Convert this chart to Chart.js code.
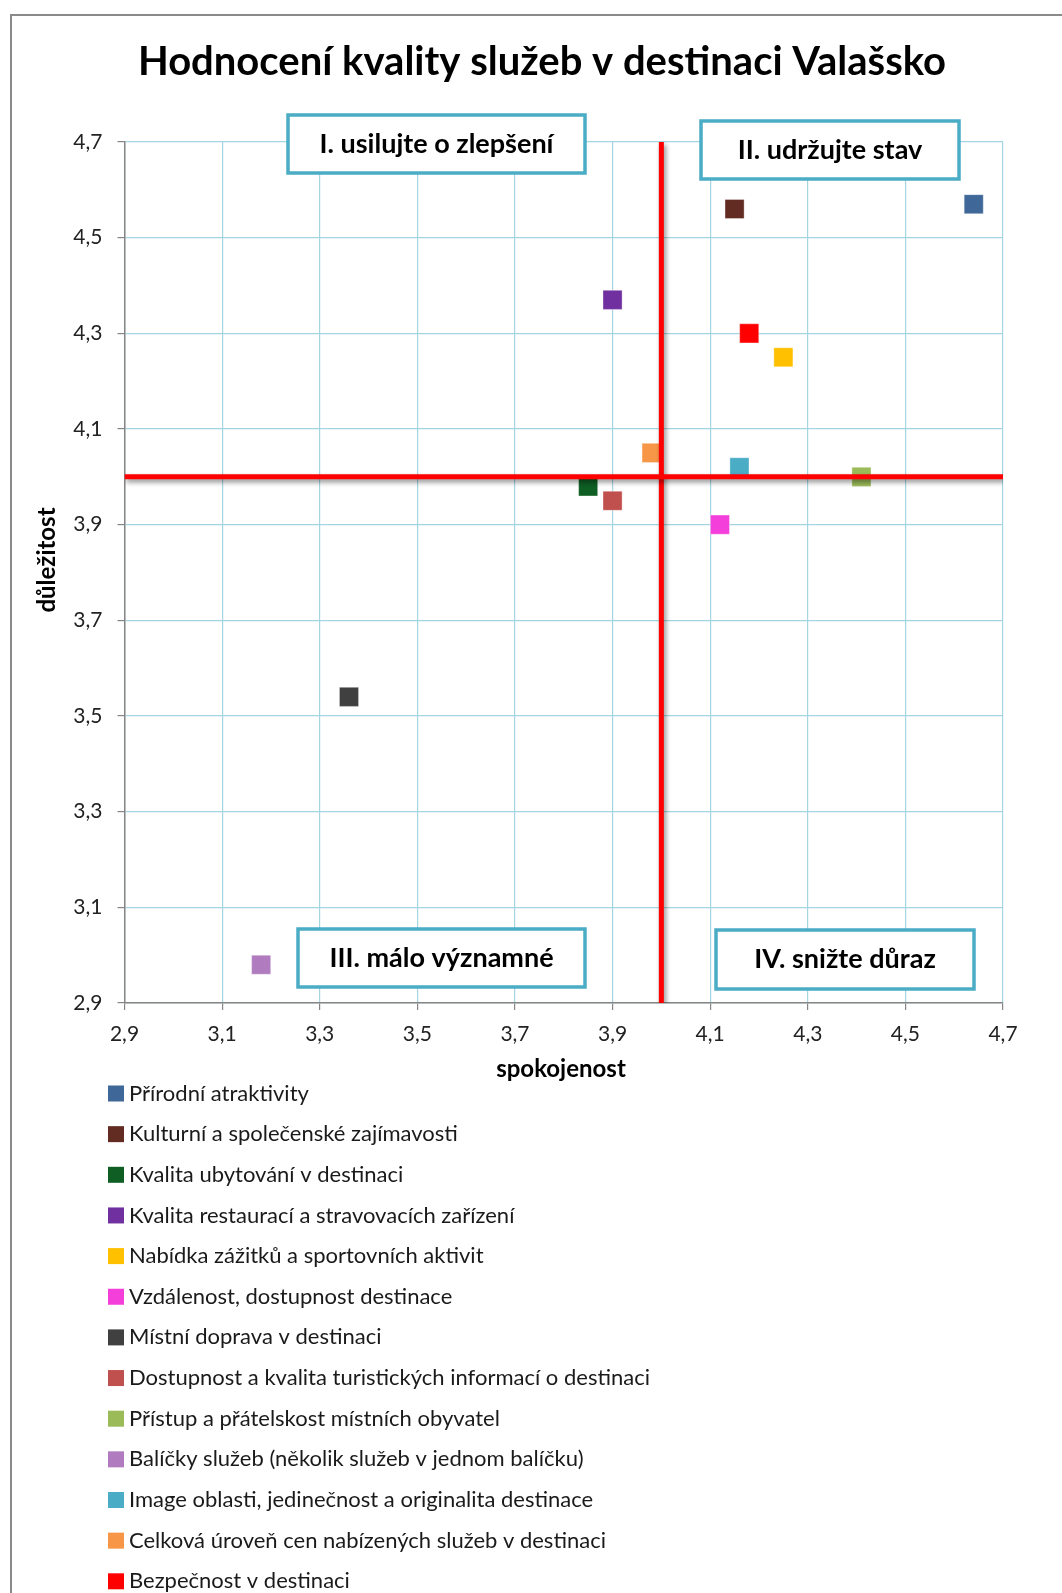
<!DOCTYPE html>
<html>
<head>
<meta charset="utf-8">
<script src="https://cdn.jsdelivr.net/npm/chart.js@4.4.1/dist/chart.umd.min.js"></script>
<style>
  body { margin: 0; background: #fff; }
  #wrap { width: 1062px; height: 1593px; position: relative; }
</style>
</head>
<body>
<div id="wrap"><canvas id="chart"></canvas></div>
<script>
// data
const categories = [
  "Přírodní atraktivity",
  "Kulturní a společenské zajímavosti",
  "Kvalita ubytování v destinaci",
  "Kvalita restaurací a stravovacích zařízení",
  "Nabídka zážitků a sportovních aktivit",
  "Vzdálenost, dostupnost destinace",
  "Místní doprava v destinaci",
  "Dostupnost a kvalita turistických informací o destinaci",
  "Přístup a přátelskost místních obyvatel",
  "Balíčky služeb (několik služeb v jednom balíčku)",
  "Image oblasti, jedinečnost a originalita destinace",
  "Celková úroveň cen nabízených služeb v destinaci",
  "Bezpečnost v destinaci"
];
const spokojenost = [4.64, 4.15, 3.85, 3.90, 4.25, 4.12, 3.36, 3.90, 4.41, 3.18, 4.16, 3.98, 4.18];
const dulezitost  = [4.57, 4.56, 3.98, 4.37, 4.25, 3.90, 3.54, 3.95, 4.00, 2.98, 4.02, 4.05, 4.30];
const colors = [
  "#3F6899", "#632C22", "#0F5E24", "#7030A0", "#FFC000", "#F53FDB", "#404040",
  "#C0504D", "#9BBB59", "#B07BBF", "#4BACC6", "#F79646", "#FF0000"
];
const tickValues = [2.9, 3.1, 3.3, 3.5, 3.7, 3.9, 4.1, 4.3, 4.5, 4.7];
const thresholdX = 4.0;
const thresholdY = 4.0;
const quadrantLabels = [
  "I. usilujte o zlepšení",
  "II. udržujte stav",
  "III. málo významné",
  "IV. snižte důraz"
];
const chartTitle = "Hodnocení kvality služeb v destinaci Valašsko";
const xTitle = "spokojenost";
const yTitle = "důležitost";

const FONT = "Lato, 'Open Sans', sans-serif";
const fmt = v => v.toFixed(1).replace(".", ",");

// quadrant boxes (pixels)
const boxes = [
  [288, 115, 585, 173],
  [701, 121, 959, 179],
  [298, 929, 585, 987],
  [716, 930, 974, 989]
];

const datasets = categories.map((name, i) => ({
  label: name,
  type: "scatter",
  data: [{ x: spokojenost[i], y: dulezitost[i] }],
  backgroundColor: colors[i],
  borderColor: "rgba(255,255,255,0.35)",
  borderWidth: 1,
  pointStyle: "rect",
  pointRadius: 13.5,
  pointHoverRadius: 13.5,
  order: 1
}));

// red threshold lines
datasets.push({
  label: "",
  type: "line",
  isThreshold: true,
  data: [{ x: tickValues[0], y: thresholdY }, { x: tickValues[tickValues.length - 1], y: thresholdY }],
  borderColor: "#FF0000",
  borderWidth: 5,
  pointRadius: 0,
  order: 0
});
datasets.push({
  label: "",
  type: "line",
  isThreshold: true,
  data: [{ x: thresholdX, y: tickValues[tickValues.length - 1] }, { x: thresholdX, y: tickValues[0] }],
  borderColor: "#FF0000",
  borderWidth: 5,
  pointRadius: 0,
  order: 0
});

const lineShadow = {
  id: "lineShadow",
  beforeDatasetDraw(chart, args) {
    if (chart.data.datasets[args.index].isThreshold) {
      const ctx = chart.ctx;
      ctx.save();
      ctx.shadowColor = "rgba(0,0,0,0.45)";
      ctx.shadowBlur = 5;
      ctx.shadowOffsetX = 2;
      ctx.shadowOffsetY = 3;
    }
  },
  afterDatasetDraw(chart, args) {
    if (chart.data.datasets[args.index].isThreshold) chart.ctx.restore();
  }
};

const decorations = {
  id: "decorations",
  beforeDraw(chart) {
    const ctx = chart.ctx;
    ctx.save();
    ctx.fillStyle = "#fff";
    ctx.fillRect(0, 0, chart.width, chart.height);
    ctx.strokeStyle = "#8a8a8a";
    ctx.lineWidth = 2;
    ctx.strokeRect(11, 15, 1200, 1800);
    ctx.restore();
  },
  afterDraw(chart) {
    const ctx = chart.ctx;
    ctx.save();

    // title
    ctx.fillStyle = "#000";
    ctx.textAlign = "center";
    ctx.textBaseline = "alphabetic";
    ctx.font = "bold 40px " + FONT;
    ctx.fillText(chartTitle, 542, 75);

    // axis titles
    ctx.font = "bold 24px " + FONT;
    ctx.textBaseline = "middle";
    ctx.fillText(xTitle, 561, 1069);
    ctx.save();
    ctx.translate(47, 560);
    ctx.rotate(-Math.PI / 2);
    ctx.fillText(yTitle, 0, 0);
    ctx.restore();

    // quadrant boxes
    boxes.forEach((b, i) => {
      ctx.fillStyle = "#fff";
      ctx.fillRect(b[0], b[1], b[2] - b[0], b[3] - b[1]);
      ctx.strokeStyle = "#4BACC6";
      ctx.lineWidth = 3.5;
      ctx.strokeRect(b[0], b[1], b[2] - b[0], b[3] - b[1]);
      ctx.fillStyle = "#000";
      ctx.font = "bold 27px " + FONT;
      ctx.textAlign = "center";
      ctx.textBaseline = "middle";
      ctx.fillText(quadrantLabels[i], (b[0] + b[2]) / 2, (b[1] + b[3]) / 2);
    });

    // legend, one item per row
    ctx.font = "22px " + FONT;
    ctx.textAlign = "left";
    ctx.textBaseline = "middle";
    chart.data.datasets.filter(d => !d.isThreshold).forEach((d, i) => {
      const y = 1093.5 + i * 40.65;
      ctx.fillStyle = d.backgroundColor;
      ctx.fillRect(108, y - 8, 16, 16);
      ctx.fillStyle = "#1a1a1a";
      ctx.fillText(d.label, 129, y);
    });
    ctx.restore();
  }
};

new Chart(document.getElementById("chart"), {
  data: { datasets },
  options: {
    responsive: true,
    maintainAspectRatio: false,
    animation: false,
    layout: { padding: { left: 20, top: 142, right: 59, bottom: 530 } },
    plugins: {
      legend: { display: false },
      title: { display: false },
      tooltip: { enabled: false }
    },
    scales: {
      x: {
        type: "linear",
        min: tickValues[0],
        max: tickValues[tickValues.length - 1],
        afterBuildTicks: s => { s.ticks = tickValues.map(v => ({ value: v })); },
        afterFit: s => { s.height = 60; },
        grid: { color: "#A5D5E3", lineWidth: 1.2, tickColor: "#868686", tickLength: 7 },
        border: { color: "#868686", width: 1.5 },
        ticks: { callback: v => fmt(v), color: "#222", font: { family: FONT, size: 21 }, padding: 12, maxRotation: 0 }
      },
      y: {
        type: "linear",
        min: tickValues[0],
        max: tickValues[tickValues.length - 1],
        afterBuildTicks: s => { s.ticks = tickValues.map(v => ({ value: v })); },
        afterFit: s => { s.width = 104.5; },
        grid: { color: "#A5D5E3", lineWidth: 1.2, tickColor: "#868686", tickLength: 7 },
        border: { color: "#868686", width: 1.5 },
        ticks: { callback: v => fmt(v), color: "#222", font: { family: FONT, size: 21 }, padding: 15 }
      }
    }
  },
  plugins: [lineShadow, decorations]
});
</script>
</body>
</html>
